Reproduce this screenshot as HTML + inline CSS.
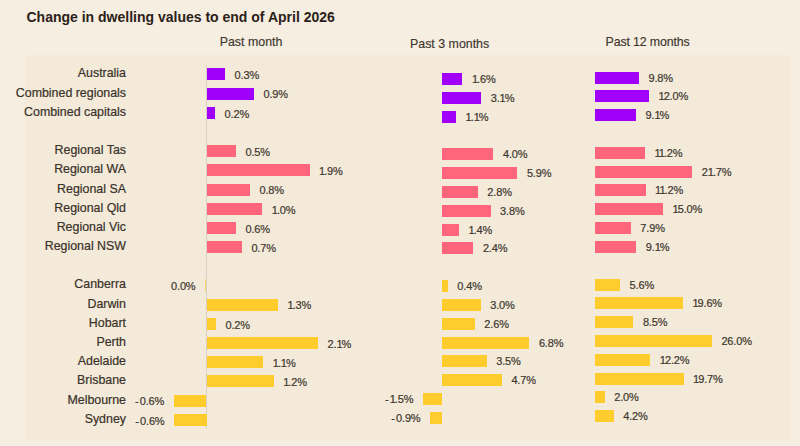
<!DOCTYPE html>
<html><head><meta charset="utf-8"><style>
html,body{margin:0;padding:0}
body{width:800px;height:446px;position:relative;overflow:hidden;background:#F6EEE1;font-family:"Liberation Sans",sans-serif}
.panel{position:absolute;left:25px;top:55px;width:765px;height:385px;background:#F3EAD9;border-radius:2px}
.title{position:absolute;left:26.5px;top:6.7px;font-size:14px;font-weight:bold;color:#2B2118;white-space:nowrap;line-height:20px}
.hdr{position:absolute;font-size:12.4px;color:#3d3630;white-space:nowrap;line-height:16px;-webkit-text-stroke:0.15px #3d3630}
.lbl{position:absolute;right:674px;font-size:12.4px;color:#3a3129;white-space:nowrap;line-height:16px;text-align:right;-webkit-text-stroke:0.2px #3a3129}
.bar{position:absolute;height:12px}
.val{position:absolute;font-size:11px;color:#40372f;white-space:nowrap;line-height:16px;letter-spacing:-0.15px;-webkit-text-stroke:0.2px #40372f}
.one{letter-spacing:-1.0px}
.mn{letter-spacing:1px}
.axis{position:absolute;left:206px;top:65px;width:1px;height:364px;background:#D9D1C4}
</style></head><body>
<div class="panel"></div>
<div class="title">Change in dwelling values to end of April 2026</div>
<div class="hdr" style="left:219.7px;top:34.3px">Past month</div>
<div class="hdr" style="left:410px;top:36px">Past 3 months</div>
<div class="hdr" style="left:605.6px;top:34.2px;letter-spacing:-0.15px">Past 12 months</div>
<div class="axis"></div>
<div class="lbl" style="top:65.4px">Australia</div>
<div class="bar" style="left:207px;top:68.4px;width:18.1px;background:#A000FA"></div>
<div class="val" style="left:234.6px;top:67.2px">0.3%</div>
<div class="bar" style="left:441.7px;top:72.9px;width:20.7px;background:#A000FA"></div>
<div class="val" style="left:471.9px;top:70.9px"><span class="one">1</span>.6%</div>
<div class="bar" style="left:595px;top:71.6px;width:44px;background:#A000FA"></div>
<div class="val" style="left:648.5px;top:69.6px">9.8%</div>
<div class="lbl" style="top:84.59px">Combined regionals</div>
<div class="bar" style="left:207px;top:87.59px;width:47px;background:#A000FA"></div>
<div class="val" style="left:263.5px;top:86.39px">0.9%</div>
<div class="bar" style="left:441.7px;top:91.73px;width:39.5px;background:#A000FA"></div>
<div class="val" style="left:490.7px;top:89.73px">3.<span class="one">1</span>%</div>
<div class="bar" style="left:595px;top:90.41px;width:54px;background:#A000FA"></div>
<div class="val" style="left:658.5px;top:88.41px"><span class="one">1</span>2.0%</div>
<div class="lbl" style="top:103.78px">Combined capitals</div>
<div class="bar" style="left:207px;top:106.78px;width:8.1px;background:#A000FA"></div>
<div class="val" style="left:224.6px;top:105.58px">0.2%</div>
<div class="bar" style="left:441.7px;top:110.56px;width:14.4px;background:#A000FA"></div>
<div class="val" style="left:465.6px;top:108.56px"><span class="one">1</span>.<span class="one">1</span>%</div>
<div class="bar" style="left:595px;top:109.22px;width:41px;background:#A000FA"></div>
<div class="val" style="left:645.5px;top:107.22px">9.<span class="one">1</span>%</div>
<div class="lbl" style="top:142.16px">Regional Tas</div>
<div class="bar" style="left:207px;top:145.16px;width:29px;background:#FF667B"></div>
<div class="val" style="left:245.5px;top:143.96px">0.5%</div>
<div class="bar" style="left:441.7px;top:148.22px;width:51.8px;background:#FF667B"></div>
<div class="val" style="left:503px;top:146.22px">4.0%</div>
<div class="bar" style="left:595px;top:146.84px;width:50px;background:#FF667B"></div>
<div class="val" style="left:654.5px;top:144.84px"><span class="one">1</span><span class="one">1</span>.2%</div>
<div class="lbl" style="top:161.35px">Regional WA</div>
<div class="bar" style="left:207px;top:164.35px;width:102.5px;background:#FF667B"></div>
<div class="val" style="left:319px;top:163.15px"><span class="one">1</span>.9%</div>
<div class="bar" style="left:441.7px;top:167.05px;width:75.7px;background:#FF667B"></div>
<div class="val" style="left:526.9px;top:165.05px">5.9%</div>
<div class="bar" style="left:595px;top:165.65px;width:97.3px;background:#FF667B"></div>
<div class="val" style="left:701.8px;top:163.65px">2<span class="one">1</span>.7%</div>
<div class="lbl" style="top:180.54px">Regional SA</div>
<div class="bar" style="left:207px;top:183.54px;width:43px;background:#FF667B"></div>
<div class="val" style="left:259.5px;top:182.34px">0.8%</div>
<div class="bar" style="left:441.7px;top:185.88px;width:36.1px;background:#FF667B"></div>
<div class="val" style="left:487.3px;top:183.88px">2.8%</div>
<div class="bar" style="left:595px;top:184.46px;width:50.6px;background:#FF667B"></div>
<div class="val" style="left:655.1px;top:182.46px"><span class="one">1</span><span class="one">1</span>.2%</div>
<div class="lbl" style="top:199.73px">Regional Qld</div>
<div class="bar" style="left:207px;top:202.73px;width:55.3px;background:#FF667B"></div>
<div class="val" style="left:271.8px;top:201.53px"><span class="one">1</span>.0%</div>
<div class="bar" style="left:441.7px;top:204.71px;width:48.9px;background:#FF667B"></div>
<div class="val" style="left:500.1px;top:202.71px">3.8%</div>
<div class="bar" style="left:595px;top:203.27px;width:68.1px;background:#FF667B"></div>
<div class="val" style="left:672.6px;top:201.27px"><span class="one">1</span>5.0%</div>
<div class="lbl" style="top:218.92px">Regional Vic</div>
<div class="bar" style="left:207px;top:221.92px;width:29px;background:#FF667B"></div>
<div class="val" style="left:245.5px;top:220.72px">0.6%</div>
<div class="bar" style="left:441.7px;top:223.54px;width:17.4px;background:#FF667B"></div>
<div class="val" style="left:468.6px;top:221.54px"><span class="one">1</span>.4%</div>
<div class="bar" style="left:595px;top:222.08px;width:35.8px;background:#FF667B"></div>
<div class="val" style="left:640.3px;top:220.08px">7.9%</div>
<div class="lbl" style="top:238.11px">Regional NSW</div>
<div class="bar" style="left:207px;top:241.11px;width:34.9px;background:#FF667B"></div>
<div class="val" style="left:251.4px;top:239.91px">0.7%</div>
<div class="bar" style="left:441.7px;top:242.37px;width:31.7px;background:#FF667B"></div>
<div class="val" style="left:482.9px;top:240.37px">2.4%</div>
<div class="bar" style="left:595px;top:240.89px;width:41.3px;background:#FF667B"></div>
<div class="val" style="left:645.8px;top:238.89px">9.<span class="one">1</span>%</div>
<div class="lbl" style="top:276.49px">Canberra</div>
<div class="bar" style="left:205px;top:279.49px;width:1px;background:#F5D46F"></div>
<div class="val r" style="right:604.5px;top:278.29px">0.0%</div>
<div class="bar" style="left:441.7px;top:280.03px;width:6.1px;background:#FFCC2E"></div>
<div class="val" style="left:457.3px;top:278.03px">0.4%</div>
<div class="bar" style="left:595px;top:278.51px;width:25.1px;background:#FFCC2E"></div>
<div class="val" style="left:629.6px;top:276.51px">5.6%</div>
<div class="lbl" style="top:295.68px">Darwin</div>
<div class="bar" style="left:207px;top:298.68px;width:71px;background:#FFCC2E"></div>
<div class="val" style="left:287.5px;top:297.48px"><span class="one">1</span>.3%</div>
<div class="bar" style="left:441.7px;top:298.86px;width:39px;background:#FFCC2E"></div>
<div class="val" style="left:490.2px;top:296.86px">3.0%</div>
<div class="bar" style="left:595px;top:297.32px;width:87.9px;background:#FFCC2E"></div>
<div class="val" style="left:692.4px;top:295.32px"><span class="one">1</span>9.6%</div>
<div class="lbl" style="top:314.87px">Hobart</div>
<div class="bar" style="left:207px;top:317.87px;width:9px;background:#FFCC2E"></div>
<div class="val" style="left:225.5px;top:316.67px">0.2%</div>
<div class="bar" style="left:441.7px;top:317.69px;width:33.1px;background:#FFCC2E"></div>
<div class="val" style="left:484.3px;top:315.69px">2.6%</div>
<div class="bar" style="left:595px;top:316.13px;width:38.4px;background:#FFCC2E"></div>
<div class="val" style="left:642.9px;top:314.13px">8.5%</div>
<div class="lbl" style="top:334.06px">Perth</div>
<div class="bar" style="left:207px;top:337.06px;width:111px;background:#FFCC2E"></div>
<div class="val" style="left:327.5px;top:335.86px">2.<span class="one">1</span>%</div>
<div class="bar" style="left:441.7px;top:336.52px;width:87.7px;background:#FFCC2E"></div>
<div class="val" style="left:538.9px;top:334.52px">6.8%</div>
<div class="bar" style="left:595px;top:334.94px;width:116.9px;background:#FFCC2E"></div>
<div class="val" style="left:721.4px;top:332.94px">26.0%</div>
<div class="lbl" style="top:353.25px">Adelaide</div>
<div class="bar" style="left:207px;top:356.25px;width:56.3px;background:#FFCC2E"></div>
<div class="val" style="left:272.8px;top:355.05px"><span class="one">1</span>.<span class="one">1</span>%</div>
<div class="bar" style="left:441.7px;top:355.35px;width:45px;background:#FFCC2E"></div>
<div class="val" style="left:496.2px;top:353.35px">3.5%</div>
<div class="bar" style="left:595px;top:353.75px;width:55.3px;background:#FFCC2E"></div>
<div class="val" style="left:659.8px;top:351.75px"><span class="one">1</span>2.2%</div>
<div class="lbl" style="top:372.44px">Brisbane</div>
<div class="bar" style="left:207px;top:375.44px;width:66.7px;background:#FFCC2E"></div>
<div class="val" style="left:283.2px;top:374.24px"><span class="one">1</span>.2%</div>
<div class="bar" style="left:441.7px;top:374.18px;width:60.2px;background:#FFCC2E"></div>
<div class="val" style="left:511.4px;top:372.18px">4.7%</div>
<div class="bar" style="left:595px;top:372.56px;width:88.6px;background:#FFCC2E"></div>
<div class="val" style="left:693.1px;top:370.56px"><span class="one">1</span>9.7%</div>
<div class="lbl" style="top:391.63px">Melbourne</div>
<div class="bar" style="left:173.7px;top:394.63px;width:32.8px;background:#FFCC2E"></div>
<div class="val r" style="right:635.8px;top:393.43px"><span class="mn">-</span>0.6%</div>
<div class="bar" style="left:422.8px;top:393.01px;width:19.2px;background:#FFCC2E"></div>
<div class="val r" style="right:386.7px;top:391.01px"><span class="mn">-</span><span class="one">1</span>.5%</div>
<div class="bar" style="left:595px;top:391.37px;width:9.7px;background:#FFCC2E"></div>
<div class="val" style="left:614.2px;top:389.37px">2.0%</div>
<div class="lbl" style="top:410.82px">Sydney</div>
<div class="bar" style="left:174px;top:413.82px;width:32.5px;background:#FFCC2E"></div>
<div class="val r" style="right:635.5px;top:412.62px"><span class="mn">-</span>0.6%</div>
<div class="bar" style="left:430px;top:411.84px;width:12px;background:#FFCC2E"></div>
<div class="val r" style="right:379.5px;top:409.84px"><span class="mn">-</span>0.9%</div>
<div class="bar" style="left:595px;top:410.18px;width:18.7px;background:#FFCC2E"></div>
<div class="val" style="left:623.2px;top:408.18px">4.2%</div>
</body></html>
